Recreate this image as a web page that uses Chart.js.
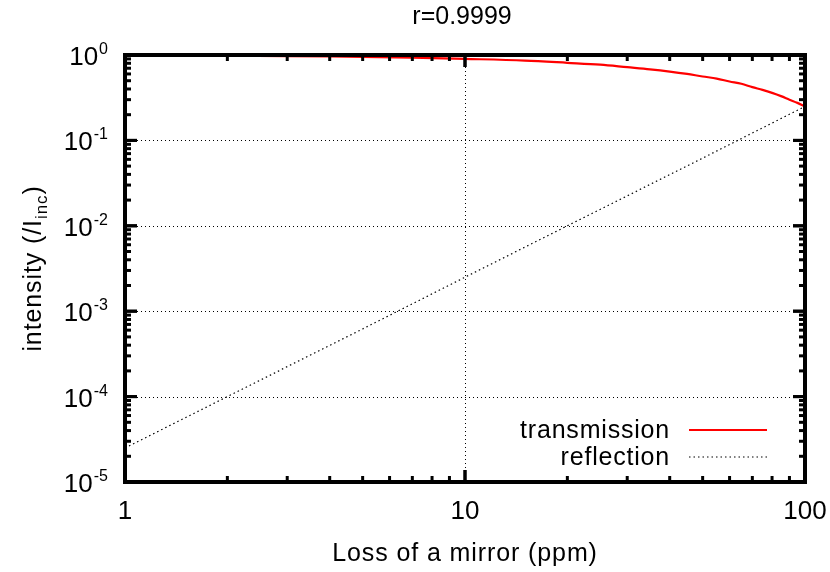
<!DOCTYPE html>
<html>
<head>
<meta charset="utf-8">
<script src="https://cdn.jsdelivr.net/npm/chart.js@4.4.1/dist/chart.umd.min.js"></script>
<style>
html,body{margin:0;padding:0;background:#fff;}
canvas{display:block;}
</style>
</head>
<body>
<canvas id="c" width="830" height="572"></canvas>
<script>
// ---- data ----
const chartTitle = "r=0.9999";
const xTitle = "Loss of a mirror (ppm)";
const seriesNames = ["transmission", "reflection"];
const lossPpm = [1, 1.5, 2, 3, 4, 5, 7, 10, 15, 20, 25, 30, 35, 40, 45, 50, 55, 60, 65, 70, 75, 80, 85, 90, 95, 100];
const transmission = [0.99, 0.985, 0.98, 0.97, 0.96, 0.95, 0.93, 0.90, 0.86, 0.81, 0.77, 0.72, 0.68, 0.64, 0.60, 0.56, 0.53, 0.49, 0.46, 0.42, 0.39, 0.36, 0.33, 0.30, 0.275, 0.25];
const reflLoss = [1, 2, 5, 10, 20, 50, 100];
const reflection = [2.5e-5, 1.0e-4, 6.2e-4, 2.5e-3, 1.0e-2, 6.2e-2, 0.25];
const xTickValues = [1, 10, 100];
const xTickLabels = ["1", "10", "100"];
const yTickValues = [1, 1e-1, 1e-2, 1e-3, 1e-4, 1e-5];
const yTickExponents = ["0", "-1", "-2", "-3", "-4", "-5"];

const FONT = '"Liberation Sans", Arial, Helvetica, sans-serif';

const gnuplotLook = {
  id: 'gnuplotLook',
  beforeDraw(chart) {
    const ctx = chart.ctx;
    ctx.save();
    ctx.fillStyle = '#fff';
    ctx.fillRect(0, 0, chart.width, chart.height);
    ctx.restore();
  },
  beforeDatasetsDraw(chart) {
    const {ctx, chartArea: a, scales: {x, y}} = chart;
    ctx.save();
    ctx.strokeStyle = '#000';
    ctx.lineWidth = 1;
    ctx.setLineDash([1, 3]);
    // vertical grid at interior major ticks
    xTickValues.forEach(v => {
      const px = Math.round(x.getPixelForValue(v)) + 0.5;
      if (px > a.left + 3 && px < a.right - 3) {
        ctx.beginPath(); ctx.moveTo(px, a.top); ctx.lineTo(px, a.bottom); ctx.stroke();
      }
    });
    yTickValues.forEach(v => {
      const py = Math.round(y.getPixelForValue(v)) + 0.5;
      if (py > a.top + 3 && py < a.bottom - 3) {
        ctx.beginPath(); ctx.moveTo(a.left, py); ctx.lineTo(a.right, py); ctx.stroke();
      }
    });
    ctx.restore();
  },
  afterDatasetsDraw(chart) {
    const {ctx, chartArea: a, scales: {x, y}} = chart;
    ctx.save();
    ctx.setLineDash([]);
    ctx.strokeStyle = '#000';
    // ticks
    ctx.lineWidth = 3;
    const major = 12, minor = 6;
    // x ticks
    for (let d = 1; d < 100; d *= 10) {
      for (let m = 1; m <= 10; m++) {
        const v = d * m;
        if (v > 100) break;
        const isMajor = (m === 1 || m === 10);
        const len = isMajor ? major : minor;
        const px = x.getPixelForValue(v);
        ctx.beginPath(); ctx.moveTo(px, a.bottom); ctx.lineTo(px, a.bottom - len); ctx.stroke();
        ctx.beginPath(); ctx.moveTo(px, a.top); ctx.lineTo(px, a.top + len); ctx.stroke();
      }
    }
    // y ticks
    for (let e = -5; e < 0; e++) {
      const d = Math.pow(10, e);
      for (let m = 1; m <= 10; m++) {
        const v = d * m;
        const isMajor = (m === 1 || m === 10);
        const len = isMajor ? major : minor;
        const py = y.getPixelForValue(v);
        ctx.beginPath(); ctx.moveTo(a.left, py); ctx.lineTo(a.left + len, py); ctx.stroke();
        ctx.beginPath(); ctx.moveTo(a.right, py); ctx.lineTo(a.right - len, py); ctx.stroke();
      }
    }
    // border
    ctx.lineWidth = 4;
    ctx.strokeRect(a.left, a.top, a.right - a.left, a.bottom - a.top);
    ctx.restore();
  },
  afterDraw(chart) {
    const {ctx, chartArea: a, scales: {x, y}} = chart;
    ctx.save();
    ctx.fillStyle = '#000';
    ctx.textBaseline = 'alphabetic';
    // title
    ctx.font = '25px ' + FONT;
    ctx.letterSpacing = '0px';
    ctx.textAlign = 'center';
    ctx.fillText(chartTitle, 462, 24);
    // x tick labels
    ctx.font = '26px ' + FONT;
    xTickValues.forEach((v, i) => {
      ctx.fillText(xTickLabels[i], x.getPixelForValue(v), 519);
    });
    // y tick labels 10^n
    yTickValues.forEach((v, i) => {
      const py = y.getPixelForValue(v);
      ctx.font = '16px ' + FONT;
      const expW = ctx.measureText(yTickExponents[i]).width;
      ctx.textAlign = 'left';
      const rightEdge = 108;
      ctx.fillText(yTickExponents[i], rightEdge - expW, py - 1);
      ctx.font = '26px ' + FONT;
      ctx.textAlign = 'right';
      ctx.fillText('10', rightEdge - expW - 1, py + 10);
    });
    // x title
    ctx.font = '25px ' + FONT;
    ctx.letterSpacing = '0.9px';
    ctx.textAlign = 'center';
    ctx.fillText(xTitle, (a.left + a.right) / 2, 561);
    // y title with subscript
    ctx.save();
    ctx.translate(41, (a.top + a.bottom) / 2);
    ctx.rotate(-Math.PI / 2);
    ctx.letterSpacing = '0.9px';
    const p1 = 'intensity (/I', sub = 'inc', p2 = ')';
    ctx.font = '25px ' + FONT;
    const w1 = ctx.measureText(p1).width, w3 = ctx.measureText(p2).width;
    ctx.font = '17px ' + FONT;
    const w2 = ctx.measureText(sub).width;
    let sx = -(w1 + w2 + w3) / 2;
    ctx.textAlign = 'left';
    ctx.font = '25px ' + FONT;
    ctx.fillText(p1, sx, 0); sx += w1;
    ctx.font = '17px ' + FONT;
    ctx.fillText(sub, sx, 6); sx += w2;
    ctx.font = '25px ' + FONT;
    ctx.fillText(p2, sx, 0);
    ctx.restore();
    // legend
    ctx.font = '25px ' + FONT;
    ctx.letterSpacing = '0.8px';
    ctx.textAlign = 'right';
    ctx.fillText(seriesNames[0], 670, 438);
    ctx.fillText(seriesNames[1], 670, 465);
    ctx.letterSpacing = '0px';
    ctx.strokeStyle = '#ff0000';
    ctx.lineWidth = 2;
    ctx.beginPath(); ctx.moveTo(689, 430); ctx.lineTo(767, 430); ctx.stroke();
    ctx.strokeStyle = '#000';
    ctx.lineWidth = 1.2;
    ctx.setLineDash([1.5, 3]);
    ctx.beginPath(); ctx.moveTo(689, 457); ctx.lineTo(767, 457); ctx.stroke();
    ctx.restore();
  }
};

new Chart(document.getElementById('c'), {
  type: 'line',
  data: {
    datasets: [
      {
        label: seriesNames[0],
        data: lossPpm.map((v, i) => ({x: v, y: transmission[i]})),
        borderColor: '#ff0000',
        borderWidth: 2.2,
        pointRadius: 0,
        cubicInterpolationMode: 'monotone',
        fill: false
      },
      {
        label: seriesNames[1],
        data: reflLoss.map((v, i) => ({x: v, y: reflection[i]})),
        borderColor: '#000000',
        borderWidth: 1.2,
        borderDash: [1.5, 3],
        pointRadius: 0,
        fill: false
      }
    ]
  },
  options: {
    responsive: false,
    animation: false,
    devicePixelRatio: 1,
    layout: {padding: {left: 125, right: 25, top: 55, bottom: 90}},
    plugins: {legend: {display: false}, tooltip: {enabled: false}, title: {display: false}},
    scales: {
      x: {type: 'logarithmic', min: 1, max: 100, display: false},
      y: {type: 'logarithmic', min: 1e-5, max: 1, display: false}
    }
  },
  plugins: [gnuplotLook]
});
</script>
</body>
</html>
